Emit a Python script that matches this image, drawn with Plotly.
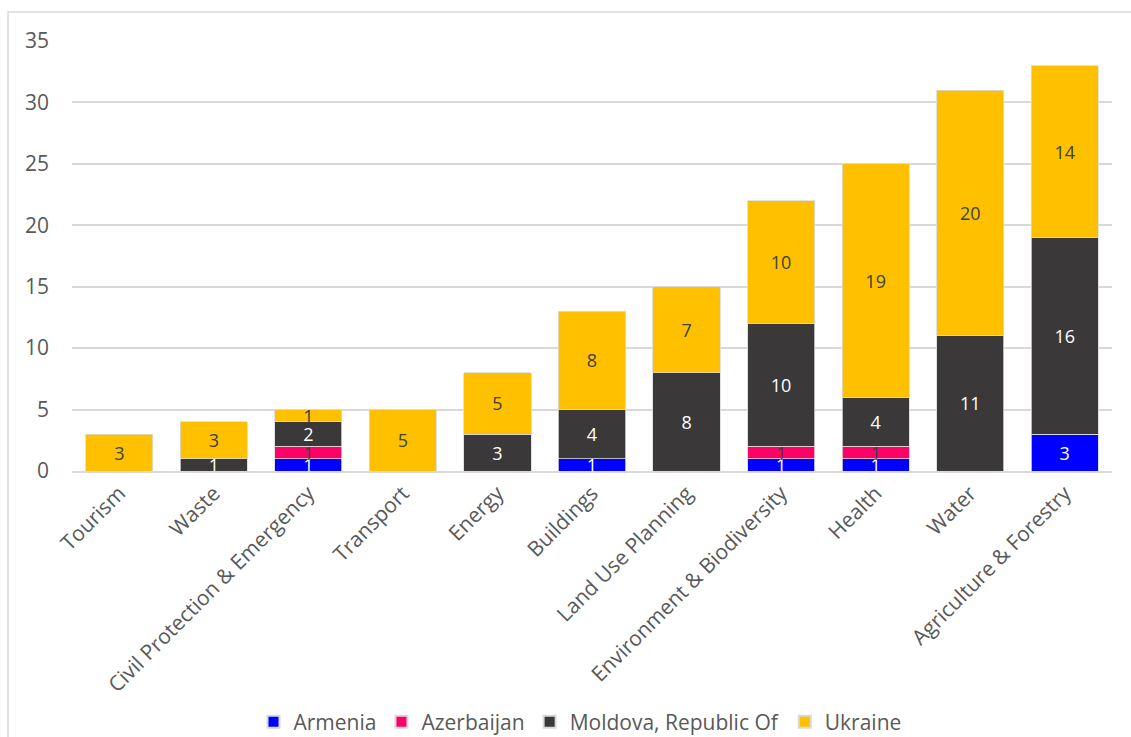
import plotly.graph_objects as go

categories = ["Tourism", "Waste", "Civil Protection & Emergency", "Transport", "Energy",
              "Buildings", "Land Use Planning", "Environment & Biodiversity", "Health",
              "Water", "Agriculture & Forestry"]
armenia = [0, 0, 1, 0, 0, 1, 0, 1, 1, 0, 3]
azerbaijan = [0, 0, 1, 0, 0, 0, 0, 1, 1, 0, 0]
moldova = [0, 1, 2, 0, 3, 4, 8, 10, 4, 11, 16]
ukraine = [3, 3, 1, 5, 5, 8, 7, 10, 19, 20, 14]

series = [
    ("Armenia", armenia, "#0000FF", "white"),
    ("Azerbaijan", azerbaijan, "#FF0066", "#404040"),
    ("Moldova, Republic Of", moldova, "#3A3838", "white"),
    ("Ukraine", ukraine, "#FFC000", "#404040"),
]

FONT = "Open Sans, sans-serif"
fig = go.Figure()
for name, vals, color, tcolor in series:
    fig.add_trace(go.Bar(
        name=name, x=categories, y=vals,
        marker=dict(color=color, line=dict(color="#d9d9d9", width=0.8)),
        text=[str(v) if v else "" for v in vals],
        textposition="inside", insidetextanchor="middle",
        constraintext="none", textangle=0,
        textfont=dict(color=tcolor, size=18, family=FONT),
        hoverinfo="x+y+name",
    ))

W, H = 1131, 737
L, R, T, B = 72, 19, 41, 266
pw, ph = W - L - R, H - T - B

fig.update_layout(
    barmode="stack", bargap=0.29,
    width=W, height=H,
    margin=dict(l=L, r=R, t=T, b=B, autoexpand=False),
    paper_bgcolor="white", plot_bgcolor="white",
    font=dict(family=FONT, color="#595959", size=21),
    showlegend=True,
    legend=dict(orientation="h", x=(580 - L) / pw, xanchor="center",
                y=(H - B - 722) / ph, yanchor="middle",
                font=dict(size=21, color="#595959", family=FONT),
                traceorder="normal", itemsizing="constant", itemwidth=30),
    xaxis=dict(tickangle=-45, showgrid=False, showline=True, linecolor="#d9d9d9",
               linewidth=1.5, ticks="", tickfont=dict(size=21, color="#595959")),
    yaxis=dict(range=[0, 35], dtick=5, showgrid=True, gridcolor="#d9d9d9", gridwidth=1.5,
               zeroline=False, showline=False, ticks="", ticklabelstandoff=22,
               tickfont=dict(size=21, color="#595959")),
    shapes=[dict(type="rect", xref="paper", yref="paper",
                 x0=(8 - L) / pw, x1=(W + 20 - L) / pw,
                 y0=(H - B - (H + 20)) / ph, y1=1 + (T - 12) / ph,
                 line=dict(color="#d9d9d9", width=1.5), fillcolor="rgba(0,0,0,0)",
                 layer="below")],
)

fig.write_html("out.html")
